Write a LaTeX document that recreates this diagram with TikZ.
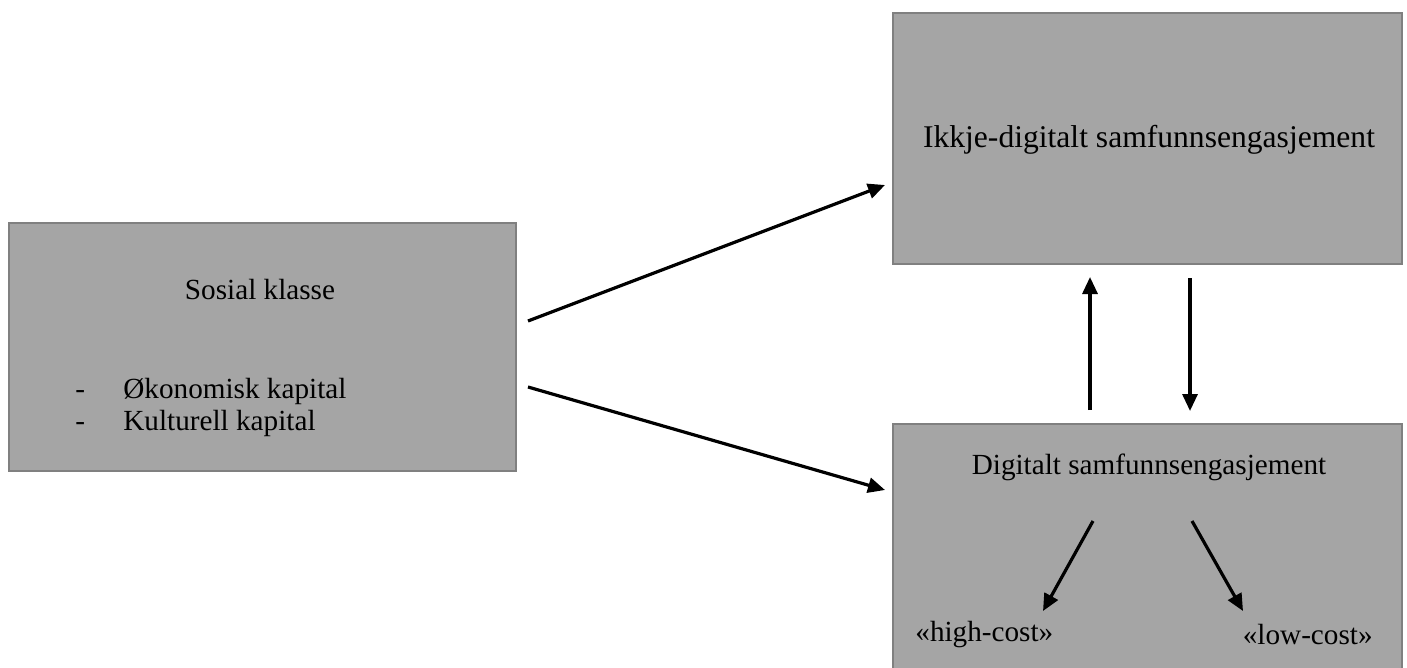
\documentclass[tikz,border=0pt]{standalone}
\usepackage{fontspec}
\setmainfont{Liberation Serif}
\usetikzlibrary{arrows.meta}
\definecolor{boxfill}{RGB}{165,165,165}
\definecolor{boxline}{RGB}{128,128,128}
\tikzset{
  panel/.style={draw=boxline, line width=1.2pt, fill=boxfill},
  lbl/.style={inner sep=0pt, font=\fontsize{14.6pt}{17pt}\selectfont, text=black},
  biglbl/.style={inner sep=0pt, font=\fontsize{15.8pt}{18pt}\selectfont, text=black},
  conn/.style={line width=1.6pt, -{Triangle[length=8.5pt,width=7.5pt]}},
}
\begin{document}
\begin{tikzpicture}[x=0.5pt,y=-0.5pt]
\useasboundingbox (0,0) rectangle (1407,668);
\clip (0,0) rectangle (1407,668);
% boxes
\draw[panel] (9,223) rectangle (516,471);
\draw[panel] (893,13) rectangle (1402,264);
\draw[panel] (893,424) rectangle (1402,680);
% texts
\node[lbl] (sosial) at (260,290) {Sosial klasse};
\node[lbl, anchor=base west] (d1) at (75,398) {-};
\node[lbl, anchor=base west] (oko) at (123,398) {Økonomisk kapital};
\node[lbl, anchor=base west] (d2) at (75,430) {-};
\node[lbl, anchor=base west] (kul) at (123,430) {Kulturell kapital};
\node[biglbl] (ikkje) at (1149,140) {Ikkje-digitalt samfunnsengasjement};
\node[lbl] (digi) at (1149,467) {Digitalt samfunnsengasjement};
\node[lbl, anchor=west] (high) at (915,635) {«high-cost»};
\node[lbl, anchor=east] (low) at (1373,635) {«low-cost»};
% connector endpoints
\coordinate (s1) at (528,321);
\coordinate (t1) at (885,185);
\coordinate (s2) at (528,387);
\coordinate (t2) at (885,490);
\coordinate (u1) at (1090,410);
\coordinate (u2) at (1090,277);
\coordinate (v1) at (1190,278);
\coordinate (v2) at (1190,411);
\coordinate (h1) at (1093,521);
\coordinate (h2) at (1043,611);
\coordinate (l1) at (1192,521);
\coordinate (l2) at (1243,611);
% connectors
\draw[conn] (s1) -- (t1);
\draw[conn] (s2) -- (t2);
\draw[conn] (u1) -- (u2);
\draw[conn] (v1) -- (v2);
\draw[conn] (h1) -- (h2);
\draw[conn] (l1) -- (l2);
\end{tikzpicture}
\end{document}
